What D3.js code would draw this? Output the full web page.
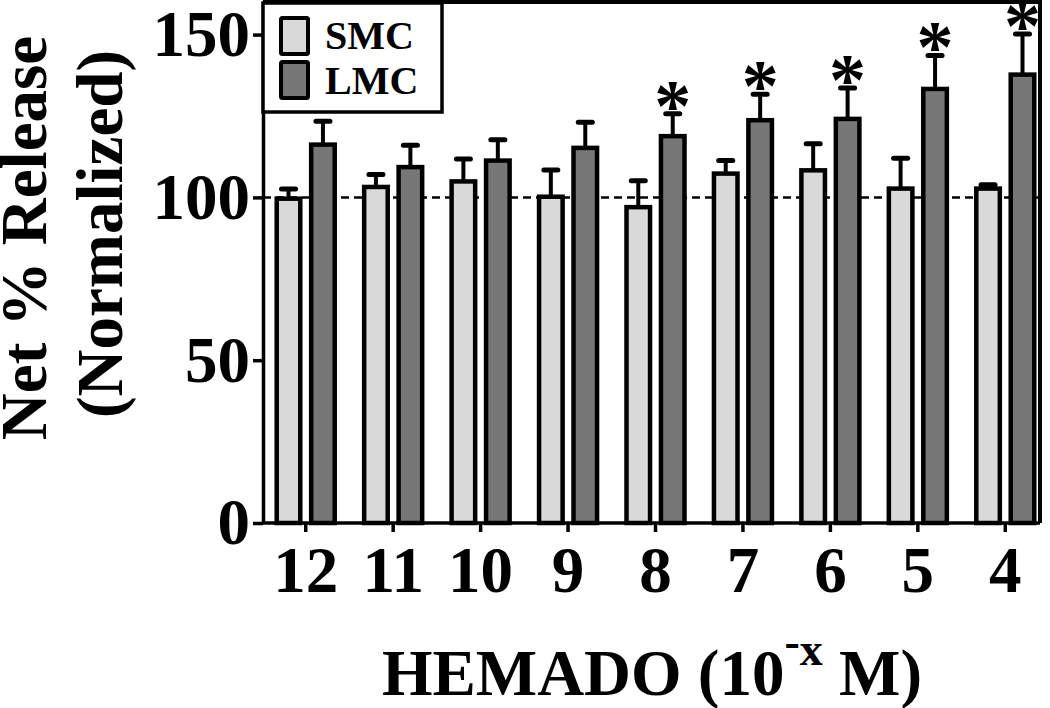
<!DOCTYPE html>
<meta charset="utf-8">
<style>
body { margin: 0; background: #fff; }
svg { display: block; background: #fff; }
text { font-family: "Liberation Serif", "Times New Roman", serif; font-weight: bold; fill: #000; }
.axis path, .axis line { stroke: #000; stroke-width: 3.5px; fill: none; }
.axis text { font-size: 65px; }
</style>
<body>
<script src="https://d3js.org/d3.v7.min.js"></script>
<script>
// data
var categories = ["12", "11", "10", "9", "8", "7", "6", "5", "4"];
var series = ["SMC", "LMC"];
var smcMean = [99.6, 103.2, 104.9, 100.2, 97.0, 107.3, 108.3, 102.7, 102.7];
var smcErr  = [3.0, 3.8, 6.9, 8.2, 8.1, 4.0, 8.2, 9.3, 1.2];
var lmcMean = [116.2, 109.3, 111.3, 115.2, 118.8, 123.7, 124.1, 133.3, 137.7];
var lmcErr  = [7.2, 6.7, 6.4, 7.9, 6.9, 8.0, 9.5, 10.3, 12.5];
var lmcSig  = [false, false, false, false, true, true, true, true, true];
var yTicks = [0, 50, 100, 150];
var colors = {SMC: "#d9d9d9", LMC: "#777777"};

var W = 1050, H = 708;
var plotL = 263, plotT = 2, plotR = 1040, plotB = 523;

var svg = d3.select("body").append("svg")
    .attr("width", W)
    .attr("height", H);

var x = d3.scaleBand().domain(categories).range([262, 1049]);
var x1 = d3.scaleBand().domain(series).range([-31, 31]).paddingInner(0.2);
var y = d3.scaleLinear().domain([0, 160]).range([plotB, plotT]);

// build rows
var flat = [];
categories.forEach(function(c, i) {
  flat.push({cat: c, key: "SMC", v: smcMean[i], e: smcErr[i], sig: false});
  flat.push({cat: c, key: "LMC", v: lmcMean[i], e: lmcErr[i], sig: lmcSig[i]});
});

// dashed reference line at 100
svg.append("line")
    .attr("x1", plotL).attr("x2", plotR)
    .attr("y1", y(100)).attr("y2", y(100))
    .attr("stroke", "#000")
    .attr("stroke-width", 2.5)
    .attr("stroke-dasharray", "8,5");

function cx(d) { return x(d.cat) + x.bandwidth() / 2 + x1(d.key) + x1.bandwidth() / 2; }

// error bars (upper only)
svg.selectAll(".err")
    .data(flat)
  .enter().append("line")
    .attr("class", "err")
    .attr("x1", cx).attr("x2", cx)
    .attr("y1", function(d) { return y(d.v); })
    .attr("y2", function(d) { return y(d.v + d.e); })
    .attr("stroke", "#000")
    .attr("stroke-width", 4);

svg.selectAll(".cap")
    .data(flat)
  .enter().append("line")
    .attr("class", "cap")
    .attr("x1", function(d) { return cx(d) - 7; })
    .attr("x2", function(d) { return cx(d) + 7; })
    .attr("y1", function(d) { return y(d.v + d.e); })
    .attr("y2", function(d) { return y(d.v + d.e); })
    .attr("stroke", "#000")
    .attr("stroke-width", 5)
    .attr("stroke-linecap", "round");

// bars
svg.selectAll(".bar")
    .data(flat)
  .enter().append("rect")
    .attr("class", "bar")
    .attr("x", function(d) { return x(d.cat) + x.bandwidth() / 2 + x1(d.key) + 2; })
    .attr("width", x1.bandwidth() - 4)
    .attr("y", function(d) { return y(d.v); })
    .attr("height", function(d) { return y(0) - y(d.v); })
    .attr("fill", function(d) { return colors[d.key]; })
    .attr("stroke", "#000")
    .attr("stroke-width", 4.5);

// significance stars
svg.selectAll(".star")
    .data(flat.filter(function(d) { return d.sig; }))
  .enter().append("text")
    .attr("class", "star")
    .attr("x", cx)
    .attr("y", function(d) { return y(d.v + d.e) + 17; })
    .attr("text-anchor", "middle")
    .style("font-size", "74px")
    .text("*");

// frame
svg.append("path")
    .attr("d", "M" + plotL + "," + plotT + "H" + plotR + "V" + plotB)
    .attr("fill", "none")
    .attr("stroke", "#000")
    .attr("stroke-width", 4);

// axes
svg.append("g")
    .attr("class", "axis")
    .attr("transform", "translate(" + plotL + ",0)")
    .call(d3.axisLeft(y).tickValues(yTicks).tickSize(10).tickSizeOuter(0).tickPadding(3));

var xAxis = svg.append("g")
    .attr("class", "axis")
    .attr("transform", "translate(0," + plotB + ")")
    .call(d3.axisBottom(x).tickSize(9).tickSizeOuter(0).tickPadding(14));
xAxis.select(".domain").attr("d", "M" + plotL + ",0H" + plotR);

// legend
var legend = svg.append("g");
legend.append("rect")
    .attr("x", plotL).attr("y", 3)
    .attr("width", 442 - plotL).attr("height", 109)
    .attr("fill", "#fff")
    .attr("stroke", "#000")
    .attr("stroke-width", 3.5);
series.forEach(function(s, i) {
  legend.append("rect")
      .attr("x", 281).attr("y", 18 + i * 44)
      .attr("width", 27).attr("height", 36)
      .attr("fill", colors[s])
      .attr("stroke", "#000")
      .attr("stroke-width", 4)
      .attr("rx", 1.5);
  legend.append("text")
      .attr("x", 325).attr("y", 49 + i * 45)
      .style("font-size", "40px")
      .text(s);
});

// axis titles
var xt = svg.append("text")
    .attr("x", 652).attr("y", 695)
    .attr("text-anchor", "middle")
    .style("font-size", "65px");
xt.append("tspan").text("HEMADO (10");
xt.append("tspan").attr("dy", -38).style("font-size", "46px").text("-");
xt.append("tspan").attr("dy", 8).style("font-size", "46px").text("x");
xt.append("tspan").attr("dy", 30).text(" M)");

svg.append("text")
    .attr("transform", "translate(46,238) rotate(-90)")
    .attr("text-anchor", "middle")
    .style("font-size", "65px")
    .text("Net % Release");

svg.append("text")
    .attr("transform", "translate(122,234) rotate(-90)")
    .attr("text-anchor", "middle")
    .style("font-size", "65px")
    .text("(Normalized)");
</script>
</body>
